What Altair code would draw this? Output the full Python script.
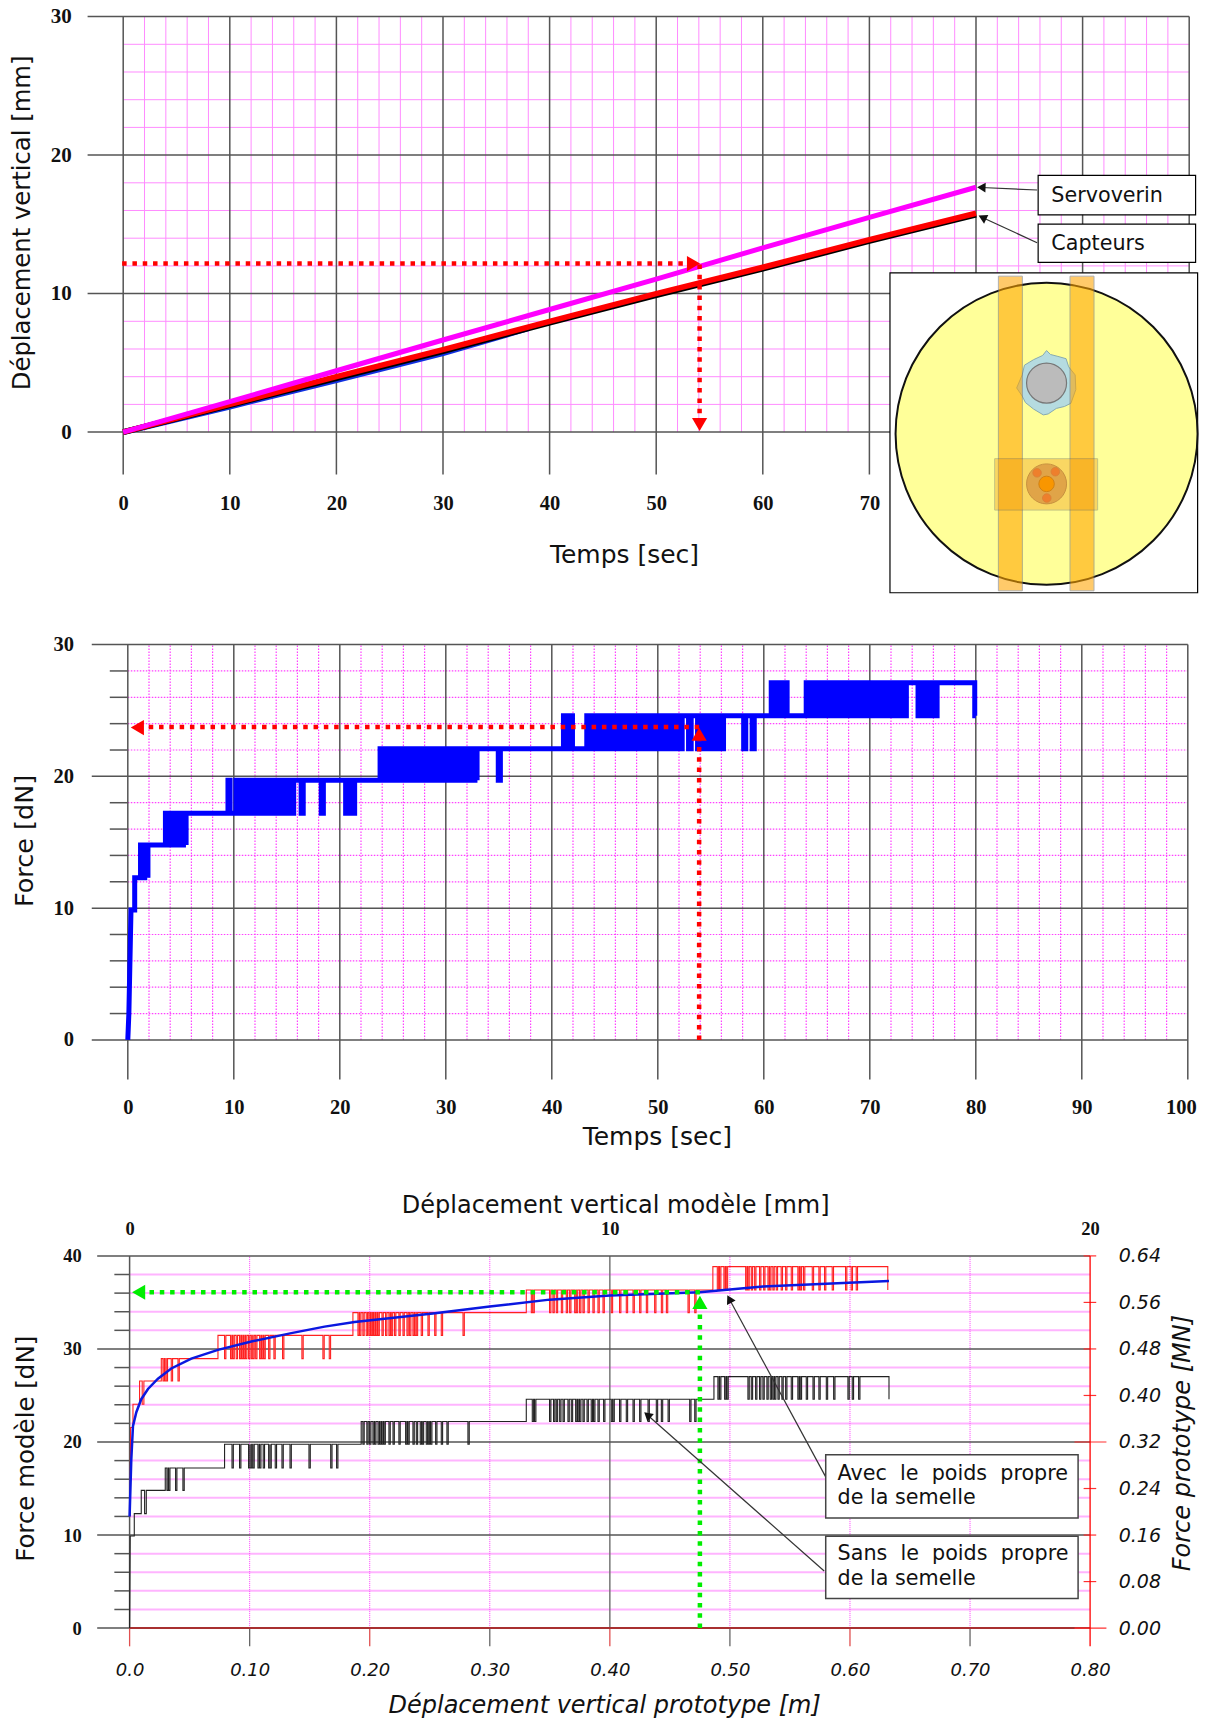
import altair as alt
import pandas as pd

SANS = "DejaVu Sans"
SERIF = "Liberation Serif"
GRID = "#ff8cff"
GRID2 = "#ff40ff"
GRID3 = "#ffb4ff"
DARK = "#555555"

# ---------- values ----------
t_grid = [0, 10, 20, 30, 40, 50, 60, 70, 80, 90, 100]
t_minor = [v for v in range(2, 100, 2) if v % 10]
mm_grid = [0, 10, 20, 30]
mm_minor = [v for v in range(2, 30, 2) if v % 10]

time_pts = [0, 10, 20, 30, 40, 50, 60, 70, 80]
servoverin = [0, 2.2, 4.43, 6.65, 8.85, 11.05, 13.3, 15.5, 17.68]
capteur_red = [0, 2.0, 4.0, 5.95, 8.0, 10.0, 11.9, 13.9, 15.8]
capteur_black = [0, 1.95, 3.9, 5.85, 7.9, 9.9, 11.8, 13.8, 15.7]
capteur_blue_t = [0, 10, 20, 30, 38]
capteur_blue = [0, 1.85, 3.75, 5.7, 7.5]

# Force / time staircase: instants where the quantised signal toggles
f_start = [(0, 0), (0.1, 2), (0.3, 9.85), (0.65, 9.85), (0.65, 12.3), (1.2, 12.3)]
f_b1 = [1.2, 1.4, 1.6, 1.9]
f_b2 = [3.55, 3.8, 4.05, 4.3, 4.55, 4.8, 5.25, 5.5]
f_b3 = [9.45, 9.65, 10.2, 10.45, 10.7, 10.95, 11.2, 11.45, 11.7, 11.95, 12.2, 12.45, 12.7,
        12.95, 13.2, 13.45, 13.7, 13.95, 14.2, 14.45, 14.7, 14.95, 15.2, 15.45, 15.65]
f_d3 = [16.35, 16.55, 18.25, 18.45, 20.55, 20.75, 21.2, 21.4]
f_b4 = [23.8, 24.0, 24.4, 24.65, 24.9, 25.3, 25.55, 25.8, 26.05, 26.3, 26.7, 26.95, 27.2,
        27.45, 27.7, 28.05, 28.3, 28.55, 28.8, 29.05, 29.3, 29.55, 29.8, 30.05, 30.3, 30.55,
        30.8, 31.05, 31.3, 31.55, 31.8, 32.05, 32.3, 32.55, 32.75, 32.95]
f_d4 = [34.95, 35.15]
f_u5 = [41.1, 41.3, 41.75, 41.95]
f_b5 = [43.3, 43.55, 43.8, 44.05, 44.3, 44.55, 44.8, 45.05, 45.3, 45.55, 45.8, 46.05, 46.3,
        46.55, 46.8, 47.05, 47.3, 47.55, 47.8, 48.05, 48.3, 48.55, 48.8, 49.05, 49.3]
f_d5 = [49.65, 49.85, 49.95, 50.15, 50.3, 50.5, 50.8, 51.0, 51.15, 51.35, 51.75, 51.95, 52.1,
        52.3, 52.9, 53.15, 53.75, 54.1, 54.5, 54.7, 54.85, 55.05, 55.3, 55.67, 55.9, 56.2]
f_d5b = [58.1, 58.3, 58.9, 59.1]
f_u6 = [60.7, 60.9, 61.3, 61.55, 61.9, 62.2]
f_b6 = [64.0, 64.25, 64.5, 64.75, 65.0, 65.25, 65.5, 65.8, 66.05, 66.3, 66.55, 66.8, 67.05,
        67.3, 67.55, 67.8, 68.05, 68.3, 68.55, 68.8, 69.05, 69.3, 69.55, 69.8, 70.05, 70.25, 70.45]
f_d6 = [70.9, 71.1, 71.3, 71.5, 71.7, 71.9, 72.1, 72.3, 72.5, 72.7, 72.9, 73.1, 73.3, 73.45,
        74.55, 74.7, 74.85, 75.0, 75.2, 75.35, 75.5, 75.65, 75.8, 75.95, 76.2, 76.35]
f_end = [(79.9, 27.1), (79.9, 24.6), (80, 24.6)]

# Force / displacement, black (without footing weight)
k_start = [(0, 0), (0.0005, 9.9), (0.0039, 9.9), (0.0039, 12.3), (0.0097, 12.3), (0.0097, 14.8)]
k_d1 = [0.0125, 0.0139]
k_b2 = [0.0297, 0.0311, 0.0325, 0.0383, 0.0444]
k_b3 = [0.0791, 0.0853, 0.0916, 0.0991, 0.1002, 0.1014, 0.1027, 0.1069, 0.1083, 0.1113, 0.1158,
        0.1169, 0.1213, 0.1269, 0.1336, 0.1494, 0.1675, 0.1724]
k_b4 = [0.1929, 0.1943, 0.1976, 0.1999, 0.2027, 0.2041, 0.2069, 0.2082, 0.2102, 0.2119, 0.2160,
        0.2194, 0.2243, 0.2299, 0.2318, 0.2360, 0.2388, 0.2421, 0.2438, 0.2471, 0.2488, 0.2507,
        0.2549, 0.2596, 0.2643, 0.2818]
k_b5 = [0.3304, 0.3354, 0.3373, 0.3498, 0.3531, 0.3554, 0.3582, 0.3610, 0.3651, 0.3679, 0.3715,
        0.3732, 0.3748, 0.3776, 0.3810, 0.3845, 0.3865, 0.3901, 0.3948, 0.4012, 0.4026, 0.4081,
        0.4137, 0.4193, 0.4248, 0.4318, 0.4387, 0.4429, 0.4485, 0.4665, 0.4707]
k_b6 = [0.4867, 0.4900, 0.4914, 0.4956, 0.4975, 0.5150, 0.5178, 0.5214, 0.5247, 0.5275, 0.5308,
        0.5336, 0.5358, 0.5372, 0.5400, 0.5433, 0.5464, 0.5511, 0.5566, 0.5586, 0.5636, 0.5692,
        0.5741, 0.5803, 0.5864, 0.5983, 0.6019, 0.6072]
k_end = [(0.6325, 27.03), (0.6325, 24.6)]

# Force / displacement, red (with footing weight)
r_start = [(0.0005, 12), (0.0008, 21.55), (0.0028, 21.55), (0.0028, 24.05), (0.0083, 24.05), (0.0083, 26.55)]
r_d1 = [0.0105, 0.0119]
r_b2 = [0.0264, 0.0278, 0.0292, 0.0305, 0.0347, 0.0403]
r_b3 = [0.0736, 0.0791, 0.0841, 0.0861, 0.0888, 0.0916, 0.0936, 0.0952, 0.0966, 0.0991, 0.1014,
        0.1027, 0.1050, 0.1083, 0.1102, 0.1119, 0.1158, 0.1202, 0.1274, 0.1435, 0.1610, 0.1663]
r_b4 = [0.1860, 0.1902, 0.1916, 0.1943, 0.1971, 0.1993, 0.2013, 0.2032, 0.2049, 0.2069, 0.2102,
        0.2132, 0.2160, 0.2180, 0.2207, 0.2243, 0.2277, 0.2310, 0.2332, 0.2360, 0.2374, 0.2388,
        0.2429, 0.2485, 0.2541, 0.2596, 0.2777]
r_b5 = [0.3304, 0.3346, 0.3360, 0.3498, 0.3526, 0.3554, 0.3596, 0.3637, 0.3665, 0.3707, 0.3721,
        0.3748, 0.3776, 0.3818, 0.3859, 0.3901, 0.3943, 0.4012, 0.4081, 0.4137, 0.4193, 0.4248,
        0.4304, 0.4373, 0.4429, 0.4471, 0.4651, 0.4707]
r_b6 = [0.4858, 0.4895, 0.4914, 0.4950, 0.4970, 0.5131, 0.5150, 0.5178, 0.5206, 0.5247, 0.5281,
        0.5317, 0.5331, 0.5358, 0.5386, 0.5427, 0.5464, 0.5511, 0.5566, 0.5586, 0.5613, 0.5686,
        0.5741, 0.5788, 0.5852, 0.5963, 0.6010, 0.6052]
r_end = [(0.6315, 38.85), (0.6315, 36.34)]

blue_x = [0, 0.0014, 0.0028, 0.0056, 0.0097, 0.0153, 0.0236, 0.0347, 0.0514, 0.0736, 0.1014, 0.1347,
          0.1624, 0.1874, 0.2526, 0.3, 0.3498, 0.4, 0.4747, 0.5275, 0.6325]
blue_y = [12.0, 18.1, 21.7, 23.2, 24.6, 25.7, 26.8, 27.9, 28.96, 29.9, 30.8, 31.7,
          32.4, 32.9, 33.8, 34.55, 35.3, 35.75, 36.1, 36.7, 37.3]


def pulse(a, b, ts):
    out, state, other = [], a, b
    for t in ts:
        out += [(t, state), (t, other)]
        state, other = other, state
    return out


def rise(lo, hi, ts):
    out = pulse(lo, hi, ts)
    if out[-1][1] != hi:
        out.append((ts[-1], hi))
    return out


def spikes(lo, hi, ts, w=0.0011):
    """Step up at the first instant, then one narrow drop at each later instant."""
    out = [(ts[0], lo), (ts[0], hi)]
    for t in ts[1:]:
        out += [(t, hi), (t, lo), (t + w, lo), (t + w, hi)]
    return out


def frame(points):
    return pd.DataFrame({"x": [p[0] for p in points], "y": [p[1] for p in points], "i": range(len(points))})


force_time = frame(f_start + rise(12.3, 14.8, f_b1) + rise(14.8, 17.2, f_b2) + rise(17.2, 19.7, f_b3)
                   + pulse(19.7, 17.2, f_d3) + rise(19.7, 22.1, f_b4) + pulse(22.1, 19.7, f_d4)
                   + pulse(22.1, 24.6, f_u5) + rise(22.1, 24.6, f_b5) + pulse(24.6, 22.1, f_d5)
                   + pulse(24.6, 22.1, f_d5b) + pulse(24.6, 27.1, f_u6) + rise(24.6, 27.1, f_b6)
                   + pulse(27.1, 24.6, f_d6) + f_end)
black_curve = frame(k_start + pulse(14.8, 12.3, k_d1) + spikes(14.8, 17.2, k_b2) + spikes(17.2, 19.75, k_b3)
                    + spikes(19.75, 22.2, k_b4) + spikes(22.2, 24.6, k_b5) + spikes(24.6, 27.03, k_b6) + k_end)
red_curve = frame(r_start + pulse(26.55, 24.05, r_d1) + spikes(26.55, 28.96, r_b2) + spikes(28.96, 31.46, r_b3)
                  + spikes(31.46, 33.9, r_b4) + spikes(33.9, 36.34, r_b5) + spikes(36.34, 38.85, r_b6) + r_end)

# ---------- scales ----------
W1, H1 = 1066, 415.5
W2, H2 = 1066, 395.3
W3, H3 = 973, 375.5
sx1 = alt.Scale(domain=[0, 100], range=[0, 1066], nice=False, zero=False)
sy1 = alt.Scale(domain=[0, 30], range=[415.5, 0], nice=False, zero=False)
sx2 = alt.Scale(domain=[0, 100], range=[4.6, 1064.6], nice=False, zero=False)
sy2 = alt.Scale(domain=[0, 30], range=[395.3, 0], nice=False, zero=False)
sx3 = alt.Scale(domain=[0, 0.8], range=[6.4, 966.9], nice=False, zero=False)
sy3 = alt.Scale(domain=[0, 40], range=[375.5, 3.3], nice=False, zero=False)
sx3b = alt.Scale(domain=[0, 20], range=[6.4, 966.9], nice=False, zero=False)
sy3b = alt.Scale(domain=[0, 0.64], range=[375.5, 3.3], nice=False, zero=False)


def xq(field, sc, axis=None):
    return alt.X(field, type="quantitative", scale=sc, axis=axis, title=None)


def yq(field, sc, axis=None):
    return alt.Y(field, type="quantitative", scale=sc, axis=axis, title=None)


def vrules(vals, lo, hi, sx, sy, **mark):
    d = pd.DataFrame({"v": vals, "lo": lo, "hi": hi})
    return alt.Chart(d).mark_rule(**mark).encode(x=xq("v", sx), y=yq("lo", sy), y2="hi:Q")


def hrules(vals, lo, hi, sx, sy, **mark):
    d = pd.DataFrame({"v": vals, "lo": lo, "hi": hi})
    return alt.Chart(d).mark_rule(**mark).encode(y=yq("v", sy), x=xq("lo", sx), x2="hi:Q")


def curve(d, sx, sy, color, width, **mark):
    return alt.Chart(d).mark_line(color=color, strokeWidth=width, clip=False, **mark).encode(
        x=xq("x", sx), y=yq("y", sy), order=alt.Order("i:Q"))


def xy(xs, ys):
    return frame(list(zip(xs, ys)))


def dotted(xs, ys, sx, sy, color, width=4.5):
    return curve(xy(xs, ys), sx, sy, color, width, strokeDash=[4.5, 5.8], strokeCap="butt")


def head(x, y, sx, sy, shape, size, color, angle=0):
    return alt.Chart(pd.DataFrame({"x": [x], "y": [y]})).mark_point(
        shape=shape, size=size, color=color, fill=color, filled=True, opacity=1, angle=angle
    ).encode(x=xq("x", sx), y=yq("y", sy))


def box(x0, x1, y0, y1, sx, sy, fill="white", stroke="black", width=1.2, opacity=1):
    d = pd.DataFrame({"a": [x0], "b": [x1], "c": [y0], "e": [y1]})
    return alt.Chart(d).mark_rect(fill=fill, stroke=stroke, strokeWidth=width, opacity=opacity).encode(
        x=xq("a", sx), x2="b:Q", y=yq("c", sy), y2="e:Q")


def label(x, y, txt, sx, sy, size=20.7):
    return alt.Chart(pd.DataFrame({"x": [x], "y": [y], "t": [txt]})).mark_text(
        align="left", baseline="middle", font=SANS, fontSize=size, color="#111111"
    ).encode(x=xq("x", sx), y=yq("y", sy), text="t:N")


def disc(x, y, d, sx, sy, fill, stroke, width=1, shape="circle"):
    return alt.Chart(pd.DataFrame({"x": [x], "y": [y]})).mark_point(
        shape=shape, size=d * d, fill=fill, stroke=stroke, strokeWidth=width, filled=False, opacity=1, fillOpacity=1
    ).encode(x=xq("x", sx), y=yq("y", sy))


def num_axis(orient, vals, pad, tx, ty, title, size=24, lsize=20.5):
    return alt.Axis(
        orient=orient, values=vals, ticks=False, domain=False, grid=False, labelPadding=pad,
        labelFont=SERIF, labelFontWeight="bold", labelFontSize=lsize, labelColor="#111111",
        labelOverlap=False, labelFlush=False, labelBound=False, format="d", title=title,
        titleFont=SANS, titleFontSize=size, titleFontWeight="normal", titleColor="#111111",
        titleX=tx, titleY=ty, titleAlign="center", titleBaseline="middle", titleAnchor=None,
    )


# ---------- panel 1 ----------
ax1x = num_axis("bottom", [0, 10, 20, 30, 40, 50, 60, 70], 61, 500.8, 122, "Temps [sec]", 25)
ax1y = num_axis("left", mm_grid, 52, -100.6, 205.8, "Déplacement vertical [mm]", 24.3, 21)
base1 = alt.Chart(pd.DataFrame({"x": t_minor, "lo": 0, "hi": 30})).mark_rule(color=GRID, strokeWidth=1).encode(
    x=xq("x", sx1, ax1x), y=yq("lo", sy1, ax1y), y2="hi:Q")

inset = [
    box(71.93, 100.79, 11.50, -11.60, sx1, sy1, width=1.2),
    disc(86.62, -0.12, 302, sx1, sy1, "#ffff99", "#111111", 2),
    disc(86.62, 3.54, 65, sx1, sy1, "#b5dbe0", "#88aab0", 1,
         shape="M0,-1L.12,-.88L.35,-.82L.6,-.75L.68,-.5L.88,-.25L.9,.2L.75,.62L.55,.72L.3,.78L.05,.95L-.1,.98L-.4,.8L-.65,.6L-.75,.4L-.92,.15L-.75,-.25L-.68,-.55L-.4,-.72L-.12,-.85Z"),
    disc(86.62, 3.54, 40, sx1, sy1, "#bbbbbb", "#777777", 1.2),
    disc(86.62, -3.74, 40, sx1, sy1, "#d8b070", "#b09060", 1),
    disc(86.62, -3.74, 15.5, sx1, sy1, "#ff9a00", "#c07820", 1),
    disc(85.73, -2.94, 8.6, sx1, sy1, "#ee7744", "#cc7755", 0.8),
    disc(87.44, -2.86, 8.6, sx1, sy1, "#ee7744", "#cc7755", 0.8),
    disc(86.64, -4.76, 8.6, sx1, sy1, "#ee7744", "#cc7755", 0.8),
    box(82.10, 84.35, 11.26, -11.46, sx1, sy1, fill="#ffa500", stroke="#777777", width=1, opacity=0.58),
    box(88.82, 91.07, 11.26, -11.46, sx1, sy1, fill="#ffa500", stroke="#777777", width=1, opacity=0.58),
    box(81.75, 91.41, -1.92, -5.63, sx1, sy1, fill="#f09000", stroke="#555555", width=1, opacity=0.35),
]

panel1 = alt.layer(
    base1,
    hrules(mm_minor, 0, 100, sx1, sy1, color=GRID, strokeWidth=1),
    vrules(t_grid, -3.07, 30, sx1, sy1, color=DARK, strokeWidth=1.5),
    hrules(mm_grid, -3.34, 100, sx1, sy1, color=DARK, strokeWidth=1.5),
    curve(xy(capteur_blue_t, capteur_blue), sx1, sy1, "#1030e0", 6),
    curve(xy(time_pts, capteur_black), sx1, sy1, "#000000", 6),
    curve(xy(time_pts, capteur_red), sx1, sy1, "#ff0000", 5.5),
    curve(xy(time_pts, servoverin), sx1, sy1, "#ff00ff", 5),
    dotted([-0.1, 53.5], [12.17, 12.17], sx1, sy1, "#ff0000"),
    dotted([54.07, 54.07], [12.1, 0.8], sx1, sy1, "#ff0000"),
    head(53.5, 12.17, sx1, sy1, "triangle-right", 230, "#ff0000"),
    head(54.07, 0.55, sx1, sy1, "triangle-down", 230, "#ff0000"),
    curve(xy([85.73, 80.5], [17.48, 17.66]), sx1, sy1, "#333333", 1.2),
    curve(xy([85.73, 80.6], [13.67, 15.5]), sx1, sy1, "#333333", 1.2),
    head(80.5, 17.66, sx1, sy1, "triangle-up", 95, "#111111", 272),
    head(80.6, 15.5, sx1, sy1, "triangle-up", 95, "#111111", 296),
    box(85.83, 100.6, 18.53, 15.69, sx1, sy1),
    box(85.83, 100.6, 15.02, 12.26, sx1, sy1),
    label(87.07, 17.06, "Servoverin", sx1, sy1),
    label(87.07, 13.59, "Capteurs", sx1, sy1),
    *inset,
).resolve_scale(x="independent", y="independent").properties(width=W1, height=H1)

# ---------- panel 2 ----------
ax2x = num_axis("bottom", t_grid[:-1], 58, 533.6, 96.7, "Temps [sec]", 25)
ax2y = num_axis("left", mm_grid, 49.7, -98.6, 195.8, "Force [dN]", 25.5)
base2 = alt.Chart(pd.DataFrame({"x": t_minor, "lo": 0, "hi": 30})).mark_rule(
    color=GRID2, strokeWidth=1.2, strokeDash=[1.5, 1.5]).encode(
    x=xq("x", sx2, ax2x), y=yq("lo", sy2, ax2y), y2="hi:Q")
last_tick = alt.Chart(pd.DataFrame({"x": [100.85], "y": [-5.14], "t": ["100"]})).mark_text(
    align="right", baseline="middle", font=SERIF, fontWeight="bold", fontSize=20.5, color="#111111"
).encode(x=xq("x", sx2), y=yq("y", sy2), text="t:N")
panel2 = alt.layer(
    base2,
    hrules(mm_minor, 0, 100, sx2, sy2, color=GRID2, strokeWidth=1.2, strokeDash=[1.5, 1.5]),
    vrules(t_grid, -3.0, 30, sx2, sy2, color=DARK, strokeWidth=1.5),
    hrules(mm_grid, -3.4, 100, sx2, sy2, color=DARK, strokeWidth=1.5),
    hrules(mm_minor, -1.7, 0, sx2, sy2, color=DARK, strokeWidth=1.5),
    curve(force_time, sx2, sy2, "#0000ff", 5),
    dotted([53.9, 1.5], [23.75, 23.75], sx2, sy2, "#ff0000"),
    dotted([53.9, 53.9], [0, 22.7], sx2, sy2, "#ff0000"),
    head(0.9, 23.7, sx2, sy2, "triangle-left", 230, "#ff0000"),
    head(53.9, 23.2, sx2, sy2, "triangle-up", 230, "#ff0000"),
    last_tick,
).resolve_scale(x="independent", y="independent").properties(width=W2, height=H2)

# ---------- panel 3 ----------
f_major = [0, 10, 20, 30, 40]
f_minor = [v for v in range(2, 40, 2) if v % 10]
ax3x = alt.Axis(orient="bottom", values=[0, 0.1, 0.2, 0.3, 0.4, 0.5, 0.6, 0.7, 0.8], ticks=False, domain=False,
                grid=False, labelPadding=33, labelFont=SANS, labelFontStyle="italic", labelFontSize=18,
                labelColor="#111111", labelOverlap=False, labelFlush=False, labelBound=False,
                labelExpr="datum.value == 0 ? '0.0' : format(datum.value, '.2f')",
                title="Déplacement vertical prototype [m]", titleFont=SANS, titleFontSize=24,
                titleFontWeight="normal", titleFontStyle="italic", titleColor="#111111",
                titleX=481, titleY=77.2, titleAlign="center", titleBaseline="middle", titleAnchor=None)
ax3y = num_axis("left", f_major, 42, -96.6, 195.7, "Force modèle [dN]", 24.5, 18.5)
ax3t = num_axis("top", [0, 10, 20], 14, 492, -47.3, "Déplacement vertical modèle [mm]", 24, 18.5)
ax3r = alt.Axis(orient="right", values=[0, 0.08, 0.16, 0.24, 0.32, 0.4, 0.48, 0.56, 0.64], ticks=False, domain=False,
                grid=False, labelPadding=22, labelFont=SANS, labelFontStyle="italic", labelFontSize=19,
                labelColor="#111111", labelOverlap=False, labelFlush=False, labelBound=False, format=".2f",
                title="Force prototype [MN]", titleFont=SANS, titleFontSize=24, titleFontWeight="normal",
                titleFontStyle="italic", titleColor="#111111", titleX=86, titleY=190, titleAngle=270,
                titleAlign="center", titleBaseline="middle", titleAnchor=None)

base3 = alt.Chart(pd.DataFrame({"v": f_minor, "lo": 0, "hi": 0.8})).mark_rule(color=GRID3, strokeWidth=2).encode(
    y=yq("v", sy3, ax3y), x=xq("lo", sx3, ax3x), x2="hi:Q")
red_axis = alt.Chart(pd.DataFrame({"x": [20, 20], "y": [-0.0313, 0.64], "i": [0, 1]})).mark_line(
    color="#ff0000", strokeWidth=1.3).encode(
    x=xq("x", sx3b, ax3t), y=yq("y", sy3b, ax3r), order=alt.Order("i:Q"))

panel3 = alt.layer(
    base3,
    vrules([0.1, 0.2, 0.3, 0.5, 0.6, 0.7], 0, 40, sx3, sy3, color=GRID2, strokeWidth=1, strokeDash=[1, 1]),
    vrules([0.4], 0, 40, sx3, sy3, color="#777777", strokeWidth=1.5),
    vrules([0.1, 0.3, 0.5, 0.7], -1.96, 0, sx3, sy3, color="#666666", strokeWidth=1.3),
    vrules([0, 0.2, 0.4, 0.6], -1.96, 0, sx3, sy3, color="#e05050", strokeWidth=1.3),
    vrules([0], 0, 40, sx3, sy3, color=DARK, strokeWidth=1.5),
    hrules([10, 20, 30, 40], -0.027, 0.8, sx3, sy3, color=DARK, strokeWidth=1.5),
    hrules(f_minor, -0.0127, 0, sx3, sy3, color=DARK, strokeWidth=1.5),
    hrules([0], -0.027, 0, sx3, sy3, color=DARK, strokeWidth=1.5),
    hrules([0], 0, 0.8, sx3, sy3, color="#a83030", strokeWidth=2),
    curve(black_curve, sx3, sy3, "#222222", 1.1),
    curve(red_curve, sx3, sy3, "#ff2020", 1.1),
    curve(xy(blue_x, blue_y), sx3, sy3, "#0a18e0", 2.5),
    dotted([0.475, 0.012], [36.09, 36.09], sx3, sy3, "#00ee00"),
    dotted([0.475, 0.475], [0, 34.3], sx3, sy3, "#00ee00"),
    head(0.0075, 36.09, sx3, sy3, "triangle-left", 230, "#00ee00"),
    head(0.475, 35.0, sx3, sy3, "triangle-up", 230, "#00ee00"),
    curve(xy([0.580, 0.4995], [16.2, 35.37]), sx3, sy3, "#333333", 1.2),
    curve(xy([0.5785, 0.4313], [6.14, 22.9]), sx3, sy3, "#333333", 1.2),
    head(0.4995, 35.37, sx3, sy3, "triangle-up", 95, "#111111", 332),
    head(0.4313, 22.9, sx3, sy3, "triangle-up", 95, "#111111", 311),
    box(0.5798, 0.7900, 18.64, 11.83, sx3, sy3, width=1.5, stroke="#444444"),
    box(0.5798, 0.7900, 9.88, 3.17, sx3, sy3, width=1.5, stroke="#444444"),
    label(0.5897, 16.54, "Avec\u00a0\u00a0le\u00a0\u00a0poids\u00a0\u00a0propre", sx3, sy3),
    label(0.5897, 13.96, "de la semelle", sx3, sy3),
    label(0.5897, 7.91, "Sans\u00a0\u00a0le\u00a0\u00a0poids\u00a0\u00a0propre", sx3, sy3),
    label(0.5897, 5.23, "de la semelle", sx3, sy3),
    hrules([0, 20], 0.787, 0.8136, sx3, sy3, color="#ff3030", strokeWidth=1.2),
    hrules([5, 10, 15, 25, 30, 35, 40], 0.7946, 0.8051, sx3, sy3, color="#ff3030", strokeWidth=1.2),
    red_axis,
).resolve_scale(x="independent", y="independent").properties(width=W3, height=H3)

chart = alt.vconcat(panel1, panel2, panel3, spacing=212).properties(
    bounds="flush", padding={"left": 2.2, "top": -2.4, "right": -3.7, "bottom": 0}
).configure_view(stroke=None)

chart.save("out.html", embed_options={"renderer": "svg", "actions": False})
